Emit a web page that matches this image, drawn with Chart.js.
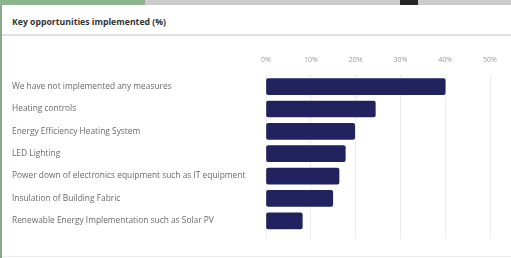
<!DOCTYPE html>
<html>
<head>
<meta charset="utf-8">
<script src="https://cdn.jsdelivr.net/npm/chart.js@4.4.1/dist/chart.umd.min.js"></script>
<style>
    html, body { margin: 0; padding: 0; background: #fff; }
    body { width: 511px; height: 258px; position: relative; overflow: hidden; font-family: "Open Sans", sans-serif; }
    .strip { position: absolute; left: 0; top: 0; width: 511px; height: 5px; background: #cbcbcb; }
    .strip .green { position: absolute; left: 0; top: 0; width: 145px; height: 5px; background: #8db58d; }
    .strip .dark { position: absolute; left: 400px; top: 0; width: 18px; height: 5px; background: #262626; }
    .edge { position: absolute; left: 0; top: 5px; width: 2px; height: 253px; background: #8aa88a; }
    .title { position: absolute; left: 12px; top: 16px; font-size: 8.7px; font-weight: bold; color: #333; }
    .sep { position: absolute; left: 2px; top: 34px; width: 509px; height: 2px; background: #e2e2e2; }
    .bottom { position: absolute; left: 2px; top: 256px; width: 509px; height: 1px; background: #ececec; }
    #chart { position: absolute; left: 0; top: 0; }
</style>
</head>
<body>
<div class="strip"><div class="green"></div><div class="dark"></div></div>
<div class="edge"></div>
<div class="title">Key opportunities implemented (%)</div>
<div class="sep"></div>
<div class="bottom"></div>
<canvas id="chart" width="511" height="258"></canvas>
<script>
const categories = [
    'We have not implemented any measures',
    'Heating controls',
    'Energy Efficiency Heating System',
    'LED Lighting',
    'Power down of electronics equipment such as IT equipment',
    'Insulation of Building Fabric',
    'Renewable Energy Implementation such as Solar PV'
];
const values = [40, 24.4, 19.8, 17.7, 16.3, 14.9, 8.1];
const axisMax = 50;
const axisStep = 10;

const ctx = document.getElementById('chart').getContext('2d');
const chart = new Chart(ctx, {
    type: 'bar',
    data: {
        labels: categories,
        datasets: [{
            data: values,
            backgroundColor: '#22225e',
            borderWidth: 0,
            borderRadius: 2,
            borderSkipped: false,
            barThickness: 16
        }]
    },
    options: {
        indexAxis: 'y',
        responsive: false,
        animation: false,
        layout: { padding: { left: 12, right: 21, top: 45, bottom: 19 } },
        plugins: { legend: { display: false }, tooltip: { enabled: false } },
        scales: {
            x: {
                position: 'top',
                min: 0,
                max: axisMax,
                ticks: {
                    stepSize: axisStep,
                    padding: 11,
                    color: '#9a9a9a',
                    font: { family: 'Open Sans', size: 7 },
                    callback: v => v + '%'
                },
                grid: { color: '#ececec', lineWidth: 1, drawTicks: false },
                border: { display: false }
            },
            x2: {
                position: 'bottom',
                axis: 'x',
                min: 0,
                max: axisMax,
                ticks: { stepSize: axisStep, display: false },
                grid: { color: '#ececec', lineWidth: 1, drawOnChartArea: false, tickLength: 7 },
                border: { display: false }
            },
            y: {
                afterFit: scale => { scale.width = 254; },
                ticks: {
                    crossAlign: 'far',
                    color: '#6a6a6a',
                    font: { family: 'Open Sans', size: 8.4 }
                },
                grid: { display: false, drawTicks: false },
                border: { display: false }
            }
        }
    }
});
</script>
</body>
</html>
